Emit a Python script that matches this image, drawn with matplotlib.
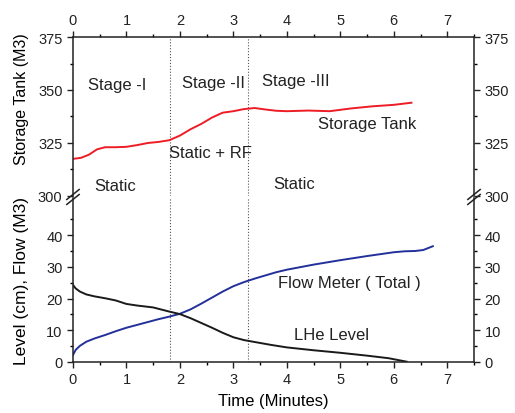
import numpy as np
import matplotlib
matplotlib.use("Agg")
import matplotlib.pyplot as plt
from matplotlib.ticker import MultipleLocator, FixedLocator

plt.rcParams['font.family'] = ['Liberation Sans', 'DejaVu Sans']

# storage tank (M3)
tank_t = [0, 0.15, 0.3, 0.45, 0.6, 0.8, 1.0, 1.2, 1.4, 1.6, 1.8, 2.0, 2.2, 2.4,
          2.6, 2.8, 3.0, 3.2, 3.4, 3.6, 3.8, 4.0, 4.4, 4.8, 5.2, 5.6, 6.0, 6.33]
tank_v = [317.5, 318, 319.5, 322, 323, 323, 323.2, 324, 325, 325.5, 326.3, 328.5,
          331.5, 334, 337, 339.3, 340, 341, 341.5, 340.8, 340.2, 340, 340.3, 340,
          341.3, 342.3, 343, 344]

# flow meter total (M3)
flow_t = [0, 0.05, 0.13, 0.25, 0.4, 0.6, 0.8, 1.0, 1.2, 1.4, 1.6, 1.8, 2.0, 2.2,
          2.4, 2.6, 2.8, 3.0, 3.2, 3.4, 3.6, 3.8, 4.0, 4.5, 5.0, 5.5, 6.0, 6.2,
          6.4, 6.55, 6.73]
flow_v = [2.2, 3.8, 5.1, 6.4, 7.4, 8.5, 9.7, 10.8, 11.7, 12.6, 13.5, 14.3, 15.2,
          16.6, 18.4, 20.3, 22.2, 23.9, 25.2, 26.3, 27.3, 28.3, 29.1, 30.7, 32.1,
          33.4, 34.6, 34.9, 35, 35.3, 36.5]

# LHe level (cm)
lhe_t = [0, 0.05, 0.13, 0.25, 0.4, 0.6, 0.8, 1.0, 1.2, 1.5, 1.8, 2.0, 2.2, 2.4,
         2.6, 2.8, 3.0, 3.2, 3.4, 3.7, 4.0, 4.5, 5.0, 5.5, 5.9, 6.24]
lhe_v = [24.3, 23.2, 22.2, 21.3, 20.7, 20.1, 19.4, 18.3, 17.8, 17.2, 15.9, 15.1,
         13.8, 12.3, 10.8, 9.2, 7.8, 6.9, 6.3, 5.4, 4.6, 3.7, 2.9, 2.0, 1.2, 0.1]

stage_lines = [1.81, 3.27]
top_ticks = [300, 325, 350, 375]
bot_ticks = [0, 10, 20, 30, 40]

fig = plt.figure(figsize=(5.15, 4.14), dpi=100)
ax_top = fig.add_axes([0.1417, 0.5242, 0.7787, 0.384])
ax_bot = fig.add_axes([0.1417, 0.1232, 0.7787, 0.3961])

tick_kw = dict(direction='out', labelsize=10.5, colors='#222222')

for ax in (ax_top, ax_bot):
    ax.set_xlim(0, 7.5)
    ax.xaxis.set_major_locator(MultipleLocator(1))
    ax.xaxis.set_minor_locator(MultipleLocator(0.5))
    ax.tick_params(which='major', length=4, width=1, **tick_kw)
    ax.tick_params(which='minor', length=2.5, width=1, direction='out')
    for s in ax.spines.values():
        s.set_linewidth(1.1)
        s.set_color('#222222')
    for x in stage_lines:
        ax.axvline(x, color='#555555', lw=0.8, ls=':')

# upper part
ax_top.set_ylim(300, 375)
ax_top.yaxis.set_major_locator(FixedLocator(top_ticks))
ax_top.yaxis.set_minor_locator(MultipleLocator(12.5))
ax_top.spines['bottom'].set_visible(False)
ax_top.tick_params(axis='x', which='both', bottom=False, labelbottom=False,
                   top=True, labeltop=True)
ax_top.tick_params(axis='y', which='both', left=True, right=True,
                   labelleft=True, labelright=True)
ax_top.plot(tank_t, tank_v, color='#ee1c25', lw=1.4)
ax_top.set_ylabel('Storage Tank (M3)', fontsize=11.5)
ax_top.yaxis.set_label_coords(-0.11, 0.616)

# lower part
ax_bot.set_ylim(0, 51.7)
ax_bot.yaxis.set_major_locator(FixedLocator(bot_ticks))
ax_bot.yaxis.set_minor_locator(FixedLocator([5, 15, 25, 35, 45]))
ax_bot.spines['top'].set_visible(False)
ax_bot.tick_params(axis='y', which='both', left=True, right=True,
                   labelleft=True, labelright=True)
ax_bot.plot(flow_t, flow_v, color='#23309a', lw=1.4)
ax_bot.plot(lhe_t, lhe_v, color='#1a1a1a', lw=1.4)
ax_bot.set_ylabel('Level (cm), Flow (M3)', fontsize=12.5)
ax_bot.yaxis.set_label_coords(-0.11, 0.5)
ax_bot.set_xlabel('Time (Minutes)', fontsize=12, labelpad=5)

# break marks on left and right spines
for xb in (0, 1):
    for dy in (-0.006, 0.006):
        fig.lines.append(plt.Line2D(
            [0.1417 + xb * 0.7787 - 0.012, 0.1417 + xb * 0.7787 + 0.012],
            [0.5218 + dy - 0.012, 0.5218 + dy + 0.012],
            transform=fig.transFigure, color='#222222', lw=1.1))

# annotations
txt = dict(fontsize=12, color='#222222', va='center', ha='left')
ax_top.text(0.29, 352.8, 'Stage -I', **txt)
ax_top.text(2.03, 353.6, 'Stage -II', **txt)
ax_top.text(3.53, 354.7, 'Stage -III', **txt)
ax_top.text(1.8, 320.3, 'Static + RF', **txt)
ax_top.text(0.4, 304.9, 'Static', **txt)
ax_top.text(3.74, 306, 'Static', **txt)
ax_top.text(4.59, 334, 'Storage Tank', **txt)
ax_bot.text(3.84, 25.1, 'Flow Meter ( Total )', **txt)
ax_bot.text(4.13, 8.6, 'LHe Level', **txt)

fig.savefig('out.png', dpi=100)
